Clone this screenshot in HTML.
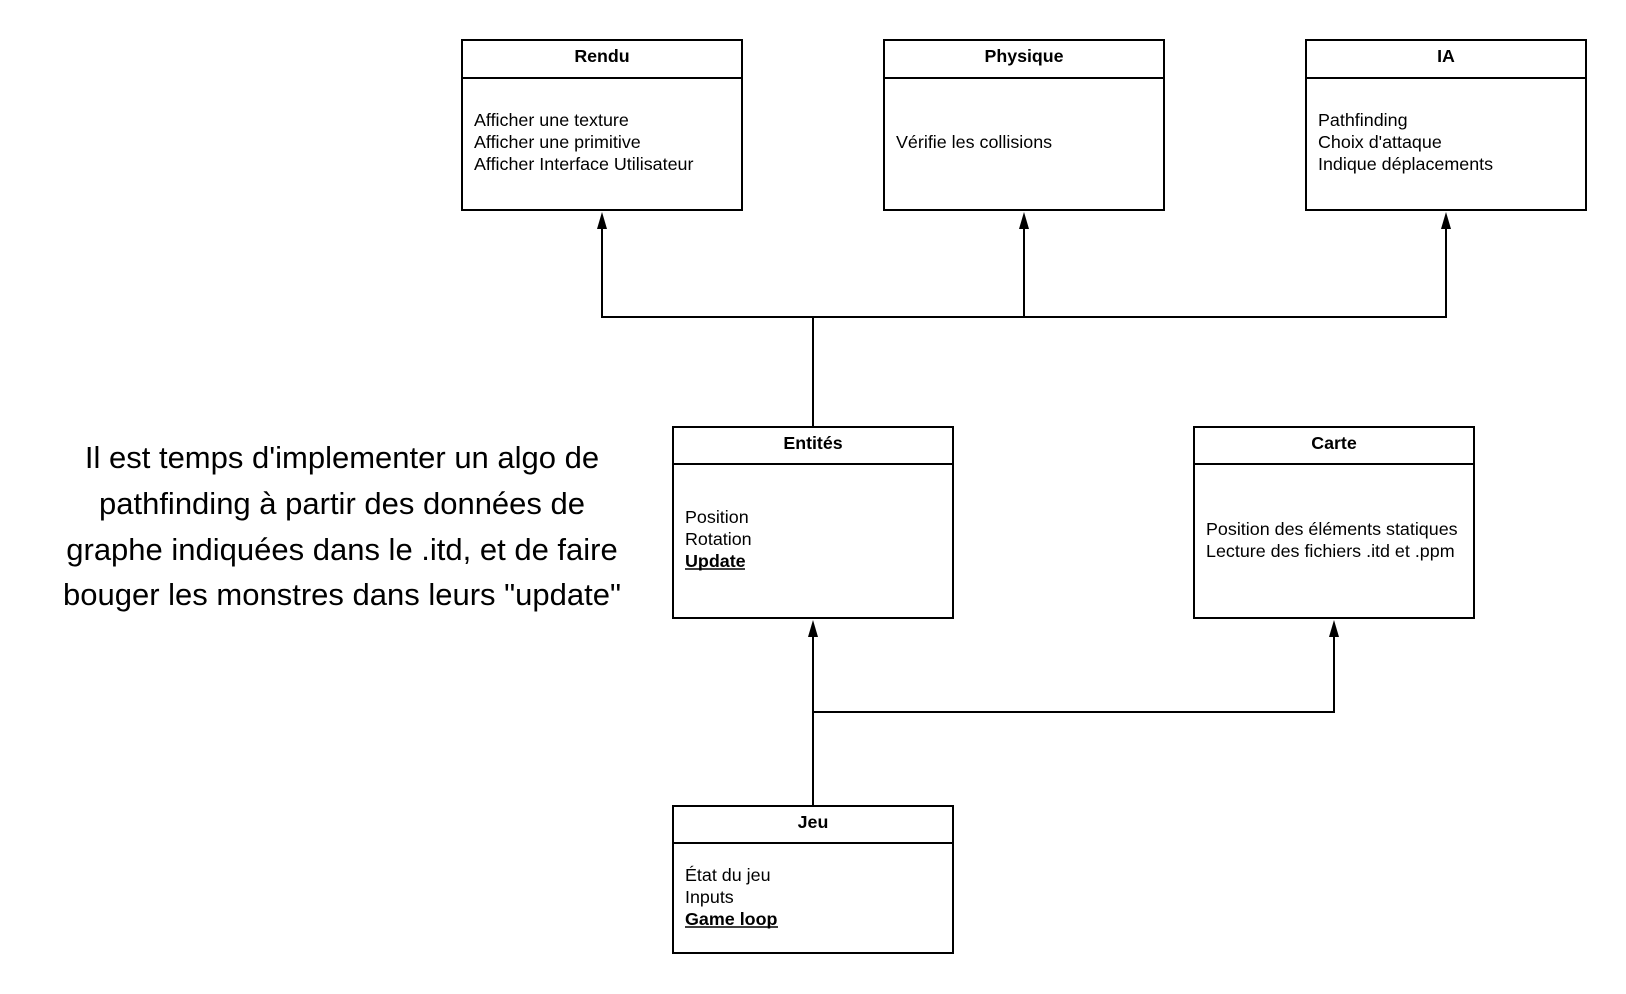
<!DOCTYPE html>
<html><head><meta charset="utf-8"><style>
body{margin:0;background:#fff}
svg{display:block}
text{font-family:"Liberation Sans",Arial,sans-serif;fill:#000}
.t{font-size:17.8px;font-weight:bold;text-anchor:middle}
.b{font-size:17.9px}
.big{font-size:31px;text-anchor:middle}
</style></head><body>
<svg width="1626" height="994" viewBox="0 0 1626 994">
<g fill="none" stroke="#000" stroke-width="2">
<rect x="462" y="40" width="280" height="170"/><line x1="462" y1="78" x2="742" y2="78"/>
<rect x="884" y="40" width="280" height="170"/><line x1="884" y1="78" x2="1164" y2="78"/>
<rect x="1306" y="40" width="280" height="170"/><line x1="1306" y1="78" x2="1586" y2="78"/>
<rect x="673" y="427" width="280" height="191"/><line x1="673" y1="464" x2="953" y2="464"/>
<rect x="1194" y="427" width="280" height="191"/><line x1="1194" y1="464" x2="1474" y2="464"/>
<rect x="673" y="806" width="280" height="147"/><line x1="673" y1="843" x2="953" y2="843"/>
<polyline points="813,427 813,317"/>
<polyline points="602,222 602,317 1446,317 1446,222"/>
<line x1="1024" y1="317" x2="1024" y2="222"/>
<line x1="813" y1="806" x2="813" y2="630"/>
<polyline points="813,712 1334,712 1334,630"/>
</g>
<g fill="#000">
<path d="M597,229 L602,212 L607,229 Z"/>
<path d="M1019,229 L1024,212 L1029,229 Z"/>
<path d="M1441,229 L1446,212 L1451,229 Z"/>
<path d="M808,637 L813,620 L818,637 Z"/>
<path d="M1329,637 L1334,620 L1339,637 Z"/>
</g>
<text class="t" x="602" y="62">Rendu</text>
<text class="t" x="1024" y="62">Physique</text>
<text class="t" x="1446" y="62">IA</text>
<text class="t" x="813" y="449">Entités</text>
<text class="t" x="1334" y="449">Carte</text>
<text class="t" x="813" y="828">Jeu</text>
<text class="b" x="474" y="126">Afficher une texture</text>
<text class="b" x="474" y="148">Afficher une primitive</text>
<text class="b" x="474" y="170">Afficher Interface Utilisateur</text>
<text class="b" x="896" y="148">Vérifie les collisions</text>
<text class="b" x="1318" y="126">Pathfinding</text>
<text class="b" x="1318" y="148">Choix d'attaque</text>
<text class="b" x="1318" y="170">Indique déplacements</text>
<text class="b" x="685" y="523">Position</text>
<text class="b" x="685" y="545">Rotation</text>
<text class="b" x="685" y="567" font-weight="bold">Update</text>
<line x1="685" y1="569" x2="745" y2="569" stroke="#000" stroke-width="1.6"/>
<text class="b" x="1206" y="535">Position des éléments statiques</text>
<text class="b" x="1206" y="557">Lecture des fichiers .itd et .ppm</text>
<text class="b" x="685" y="881">État du jeu</text>
<text class="b" x="685" y="903">Inputs</text>
<text class="b" x="685" y="925" font-weight="bold">Game loop</text>
<line x1="685" y1="927" x2="778" y2="927" stroke="#000" stroke-width="1.6"/>
<text class="big" x="342" y="468">Il est temps d'implementer un algo de</text>
<text class="big" x="342" y="514">pathfinding à partir des données de</text>
<text class="big" x="342" y="560">graphe indiquées dans le .itd, et de faire</text>
<text class="big" x="342" y="605">bouger les monstres dans leurs "update"</text>
</svg>
</body></html>
